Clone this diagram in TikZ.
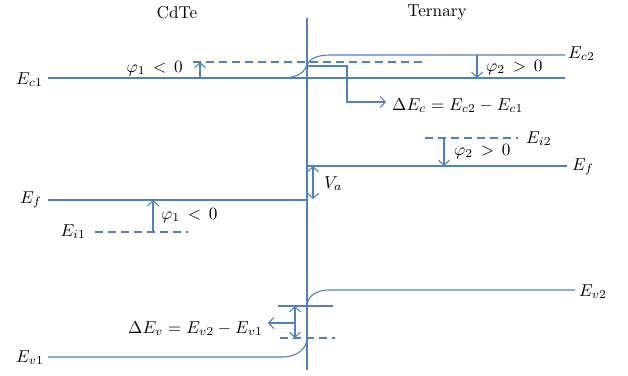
\documentclass[tikz,border=0pt]{standalone}
\usepackage{graphicx}
\usetikzlibrary{arrows.meta}
\definecolor{band}{RGB}{79,129,189}
\newcommand\bigtxt[1]{\scalebox{1.72}{#1}}
\begin{document}
\begin{tikzpicture}[x=1pt,y=-1pt,
  level/.style={draw=band,line width=1.1pt},
  dlevel/.style={draw=band,line width=1.1pt,dash pattern=on 8pt off 5pt},
  arr/.style={draw=band,line width=1.1pt,-{Straight Barb[length=5pt,width=11pt]}},
  darr/.style={draw=band,line width=1.1pt,{Straight Barb[length=5pt,width=11pt]}-{Straight Barb[length=5pt,width=11pt]}},
  lbl/.style={inner sep=0pt}]
\useasboundingbox (0,0) rectangle (628,375);
% coordinates
\coordinate (jt) at (307,18);
\coordinate (jb) at (307,370);
% titles
\node[lbl,anchor=base] (cdte) at (177,18) {\bigtxt{CdTe}};
\node[lbl,anchor=base] (tern) at (437,16) {\bigtxt{Ternary}};
% junction
\draw[level] (jt) -- (jb);
% conduction band
\coordinate (ec1a) at (48,78);
\coordinate (ec1b) at (565,78);
\draw[level] (ec1a) -- (ec1b);
\coordinate (cc1) at (283,78);
\coordinate (cc2) at (307,62);
\draw[level] (cc1) to[out=0,in=-90] (cc2);
\coordinate (cu1) at (307,68);
\coordinate (cu2) at (330,55);
\coordinate (ec2b) at (565,55);
\draw[level] (cu1) to[out=90,in=180] (cu2) -- (ec2b);
\coordinate (dl1) at (193,62);
\coordinate (dl2) at (423,62);
\draw[dlevel] (dl1) -- (dl2);
\coordinate (p1a) at (200,78);
\coordinate (p1b) at (200,62);
\draw[arr] (p1a) -- (p1b);
\coordinate (p2a) at (477,55);
\coordinate (p2b) at (477,78);
\draw[arr] (p2a) -- (p2b);
\coordinate (dec0) at (307,66);
\coordinate (dec1) at (386,102);
\draw[arr] (dec0) -- (347,66) -- (347,102) -- (dec1);
\node[lbl,anchor=base east] (Ec1) at (43,84) {\bigtxt{$E_{c1}$}};
\node[lbl,anchor=base west] (Ec2) at (568,58) {\bigtxt{$E_{c2}$}};
\node[lbl,anchor=base east] (phi1t) at (183,72) {\bigtxt{$\varphi_1\,<\,0$}};
\node[lbl,anchor=base west] (phi2t) at (486,71) {\bigtxt{$\varphi_2\,>\,0$}};
\node[lbl,anchor=base west] (dEc) at (392,110) {\bigtxt{$\Delta E_c = E_{c2} - E_{c1}$}};
% Fermi / intrinsic levels
\coordinate (ei2a) at (425,138);
\coordinate (ei2b) at (518,138);
\draw[dlevel] (ei2a) -- (ei2b);
\coordinate (efra) at (307,166);
\coordinate (efrb) at (567,166);
\draw[level] (efra) -- (efrb);
\coordinate (p3a) at (444,138);
\coordinate (p3b) at (444,166);
\draw[arr] (p3a) -- (p3b);
\coordinate (va1) at (313,166);
\coordinate (va2) at (313,199);
\draw[darr] (va1) -- (va2);
\coordinate (efla) at (48,200);
\coordinate (eflb) at (307,200);
\draw[level] (efla) -- (eflb);
\coordinate (ei1a) at (95,232);
\coordinate (ei1b) at (188,232);
\draw[dlevel] (ei1a) -- (ei1b);
\coordinate (p4a) at (153,232);
\coordinate (p4b) at (153,200);
\draw[arr] (p4a) -- (p4b);
\node[lbl,anchor=base west] (Ei2) at (526,143) {\bigtxt{$E_{i2}$}};
\node[lbl,anchor=base west] (phi2m) at (454,155) {\bigtxt{$\varphi_2\,>\,0$}};
\node[lbl,anchor=base west] (Efr) at (572,170) {\bigtxt{$E_f$}};
\node[lbl,anchor=base west] (Va) at (324,188) {\bigtxt{$V_a$}};
\node[lbl,anchor=base east] (Efl) at (42,203) {\bigtxt{$E_f$}};
\node[lbl,anchor=base west] (phi1m) at (161,219) {\bigtxt{$\varphi_1\,<\,0$}};
\node[lbl,anchor=base east] (Ei1) at (86,236) {\bigtxt{$E_{i1}$}};
% valence band
\coordinate (vu1) at (307,306);
\coordinate (vu2) at (328,290);
\coordinate (ev2b) at (575,290);
\draw[level] (vu1) to[out=90,in=180] (vu2) -- (ev2b);
\coordinate (ev1a) at (48,357);
\coordinate (vl1) at (283,357);
\coordinate (vl2) at (307,338);
\draw[level] (ev1a) -- (vl1) to[out=0,in=-90] (vl2);
\coordinate (vs1) at (278,306);
\coordinate (vs2) at (333,306);
\draw[level] (vs1) -- (vs2);
\coordinate (vd1) at (280,338);
\coordinate (vd2) at (335,338);
\draw[dlevel] (vd1) -- (vd2);
\coordinate (dv1) at (295,306);
\coordinate (dv2) at (295,338);
\draw[darr] (dv1) -- (dv2);
\coordinate (dvh1) at (295,323);
\coordinate (dvh2) at (268,323);
\draw[arr] (dvh1) -- (dvh2);
\node[lbl,anchor=base west] (Ev2) at (579,296) {\bigtxt{$E_{v2}$}};
\node[lbl,anchor=base east] (Ev1) at (44,362) {\bigtxt{$E_{v1}$}};
\node[lbl,anchor=base east] (dEv) at (263,333) {\bigtxt{$\Delta E_v = E_{v2} - E_{v1}$}};
\end{tikzpicture}
\end{document}
